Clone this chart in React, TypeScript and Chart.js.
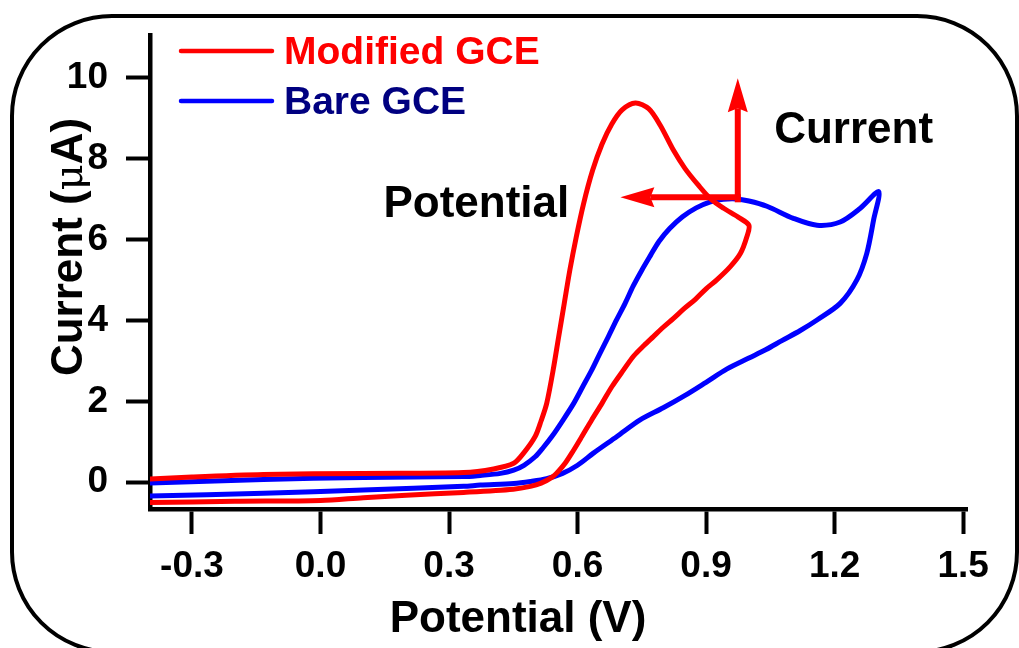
import React, { useEffect, useRef } from "react";
import { Chart, registerables } from "chart.js";

Chart.register(...registerables);

// ---- data (Potential in V, Current in µA) ----
const seriesNames = ["Modified GCE", "Bare GCE"];

const modifiedV = [
  -0.398, -0.3, -0.133, 0.1, 0.334, 0.404, 0.451, 0.474, 0.501, 0.515, 0.528, 0.543, 0.556, 0.569, 0.582,
  0.597, 0.614, 0.635, 0.657, 0.68, 0.704, 0.735, 0.766, 0.793, 0.824, 0.851, 0.882, 0.91, 0.941, 0.975, 1.0,
  0.995, 0.98, 0.956, 0.925, 0.9, 0.875, 0.85, 0.824, 0.8, 0.777, 0.755, 0.731, 0.707, 0.68, 0.657, 0.633,
  0.61, 0.59, 0.571, 0.555, 0.54, 0.515, 0.49, 0.45, 0.334, 0.2, 0.1, 0.0, -0.2, -0.398,
];
const modifiedI = [
  0.08, 0.13, 0.19, 0.22, 0.24, 0.33, 0.47, 0.72, 1.13, 1.52, 1.95, 2.77, 3.6, 4.42, 5.24,
  6.06, 6.88, 7.7, 8.35, 8.85, 9.2, 9.37, 9.23, 8.82, 8.2, 7.75, 7.34, 7.01, 6.77, 6.55, 6.35,
  6.06, 5.65, 5.32, 5.0, 4.78, 4.52, 4.3, 4.05, 3.83, 3.6, 3.38, 3.12, 2.77, 2.36, 1.95, 1.54,
  1.13, 0.78, 0.47, 0.27, 0.12, -0.02, -0.1, -0.17, -0.25, -0.32, -0.38, -0.45, -0.47, -0.5,
];

const bareV = [
  -0.398, -0.133, 0.1, 0.334, 0.373, 0.42, 0.451, 0.475, 0.501, 0.52, 0.54, 0.565, 0.591, 0.612, 0.633,
  0.652, 0.672, 0.691, 0.711, 0.73, 0.75, 0.77, 0.79, 0.815, 0.845, 0.877, 0.91, 0.94, 0.97, 1.0, 1.042,
  1.104, 1.159, 1.213, 1.26, 1.303,
  1.291, 1.275, 1.252, 1.213, 1.159, 1.12, 1.077, 1.04, 1.0, 0.949, 0.9, 0.85, 0.8, 0.746, 0.692, 0.637,
  0.6, 0.565, 0.528, 0.49, 0.451, 0.373, 0.334, 0.1, -0.133, -0.398,
];
const bareI = [
  -0.02, 0.07, 0.12, 0.14, 0.17, 0.22, 0.3, 0.42, 0.63, 0.86, 1.13, 1.52, 1.95, 2.36, 2.77,
  3.18, 3.6, 4.01, 4.42, 4.85, 5.24, 5.6, 5.95, 6.27, 6.56, 6.78, 6.93, 6.99, 7.0, 6.95, 6.82,
  6.52, 6.35, 6.43, 6.77, 7.18,
  6.48, 5.65, 5.0, 4.42, 4.01, 3.75, 3.5, 3.28, 3.07, 2.8, 2.47, 2.14, 1.84, 1.54, 1.13, 0.72,
  0.42, 0.22, 0.09, 0.02, -0.03, -0.07, -0.1, -0.19, -0.27, -0.34,
];

const xTicks = [-0.3, 0.0, 0.3, 0.6, 0.9, 1.2, 1.5];
const yTicks = [0, 2, 4, 6, 8, 10];

// annotation arrows (data coordinates)
const arrowOrigin = [0.974, 7.04];
const currentArrowTip = [0.974, 9.98];
const potentialArrowTip = [0.7, 7.04];
const annotationTexts = ["Potential", "Current"];
const annotationAnchors = [
  [0.147, 6.55],
  [1.059, 8.38],
];

const FONT = '"Liberation Sans", Arial, Helvetica, sans-serif';
const RED = "#FF0000";
const BLUE = "#0000FF";
const NAVY = "#000080";

function toPoints(xs: number[], ys: number[]) {
  return xs.map((x, i) => ({ x, y: ys[i] }));
}

function arrow(ctx: CanvasRenderingContext2D, x0: number, y0: number, x1: number, y1: number) {
  const ang = Math.atan2(y1 - y0, x1 - x0);
  const headLen = 34;
  const headHalf = 10;
  const bx = x1 - headLen * Math.cos(ang);
  const by = y1 - headLen * Math.sin(ang);
  ctx.save();
  ctx.strokeStyle = RED;
  ctx.fillStyle = RED;
  ctx.lineWidth = 6;
  ctx.lineCap = "butt";
  ctx.beginPath();
  ctx.moveTo(x0, y0);
  ctx.lineTo(bx + 4 * Math.cos(ang), by + 4 * Math.sin(ang));
  ctx.stroke();
  ctx.beginPath();
  ctx.moveTo(x1, y1);
  ctx.lineTo(bx - headHalf * Math.sin(ang), by + headHalf * Math.cos(ang));
  ctx.lineTo(bx + 4 * Math.cos(ang), by + 4 * Math.sin(ang));
  ctx.lineTo(bx + headHalf * Math.sin(ang), by - headHalf * Math.cos(ang));
  ctx.closePath();
  ctx.fill();
  ctx.restore();
}

const decorPlugin = {
  id: "decor",
  beforeDraw(chart: any) {
    const ctx: CanvasRenderingContext2D = chart.ctx;
    ctx.save();
    ctx.fillStyle = "#FFFFFF";
    ctx.fillRect(0, 0, chart.width, chart.height);
    // rounded frame
    const l = 12, t = 16, r = 1017, b = 652, rad = 100;
    ctx.strokeStyle = "#000";
    ctx.lineWidth = 4;
    ctx.beginPath();
    ctx.moveTo(l + rad, t);
    ctx.lineTo(r - rad, t);
    ctx.arcTo(r, t, r, t + rad, rad);
    ctx.lineTo(r, b - rad);
    ctx.arcTo(r, b, r - rad, b, rad);
    ctx.lineTo(l + rad, b);
    ctx.arcTo(l, b, l, b - rad, rad);
    ctx.lineTo(l, t + rad);
    ctx.arcTo(l, t, l + rad, t, rad);
    ctx.closePath();
    ctx.stroke();
    ctx.restore();
  },
  afterDraw(chart: any) {
    const ctx: CanvasRenderingContext2D = chart.ctx;
    const xs = chart.scales.x;
    const ys = chart.scales.y;
    const ca = chart.chartArea;
    ctx.save();

    // legend
    const legendColors = [RED, BLUE];
    const legendTextColors = [RED, NAVY];
    seriesNames.forEach((name, i) => {
      const y = 51 + i * 50;
      ctx.strokeStyle = legendColors[i];
      ctx.lineWidth = 4.5;
      ctx.lineCap = "round";
      ctx.beginPath();
      ctx.moveTo(ca.left + 31, y);
      ctx.lineTo(ca.left + 122, y);
      ctx.stroke();
      ctx.fillStyle = legendTextColors[i];
      ctx.font = `bold 39px ${FONT}`;
      ctx.textAlign = "left";
      ctx.textBaseline = "middle";
      ctx.fillText(name, ca.left + 134, y + 2);
    });

    // arrows
    const ox = xs.getPixelForValue(arrowOrigin[0]);
    const oy = ys.getPixelForValue(arrowOrigin[1]);
    arrow(ctx, ox, oy + 5, xs.getPixelForValue(currentArrowTip[0]), ys.getPixelForValue(currentArrowTip[1]));
    arrow(ctx, ox + 3, oy, xs.getPixelForValue(potentialArrowTip[0]), ys.getPixelForValue(potentialArrowTip[1]));

    // annotation texts
    ctx.fillStyle = "#000";
    ctx.font = `bold 44px ${FONT}`;
    ctx.textAlign = "left";
    ctx.textBaseline = "alphabetic";
    annotationTexts.forEach((txt, i) => {
      ctx.fillText(txt, xs.getPixelForValue(annotationAnchors[i][0]), ys.getPixelForValue(annotationAnchors[i][1]));
    });

    // x-axis title
    ctx.font = `bold 44px ${FONT}`;
    ctx.textAlign = "center";
    ctx.fillText("Potential (V)", 518, 632);

    // y-axis title (rotated, µ in a lighter face)
    ctx.translate(82, 247);
    ctx.rotate(-Math.PI / 2);
    const parts = [
      { t: "Current (", f: `bold 44px ${FONT}` },
      { t: "\u03BC", f: `40px "DejaVu Serif", serif` },
      { t: "A)", f: `bold 44px ${FONT}` },
    ];
    let total = 0;
    const widths = parts.map((p) => {
      ctx.font = p.f;
      const w = ctx.measureText(p.t).width;
      total += w;
      return w;
    });
    let cx = -total / 2;
    ctx.textAlign = "left";
    parts.forEach((p, i) => {
      ctx.font = p.f;
      ctx.fillText(p.t, cx, 0);
      cx += widths[i];
    });
    ctx.restore();
  },
};

export default function App() {
  const canvasRef = useRef<HTMLCanvasElement | null>(null);

  useEffect(() => {
    document.body.style.margin = "0";
    const canvas = canvasRef.current;
    if (!canvas) return;
    const chart = new Chart(canvas, {
      type: "scatter",
      data: {
        datasets: [
          {
            label: seriesNames[0],
            data: toPoints(modifiedV, modifiedI),
            showLine: true,
            borderColor: RED,
            backgroundColor: RED,
            borderWidth: 5,
            pointRadius: 0,
            tension: 0.3,
            borderCapStyle: "round",
            borderJoinStyle: "round",
          },
          {
            label: seriesNames[1],
            data: toPoints(bareV, bareI),
            showLine: true,
            borderColor: BLUE,
            backgroundColor: BLUE,
            borderWidth: 5,
            pointRadius: 0,
            tension: 0.3,
            borderCapStyle: "round",
            borderJoinStyle: "round",
          },
        ],
      },
      options: {
        responsive: false,
        animation: false,
        layout: { padding: { left: 0, top: 35, right: 51.6, bottom: 0 } },
        plugins: {
          legend: { display: false },
          tooltip: { enabled: false },
          title: { display: false },
        },
        scales: {
          x: {
            type: "linear",
            min: -0.398,
            max: 1.51,
            afterFit: (s: any) => {
              s.height = 139;
              s.paddingLeft = 0;
              s.paddingRight = 0;
            },
            afterBuildTicks: (s: any) => {
              s.ticks = xTicks.map((v) => ({ value: v }));
            },
            border: { display: true, color: "#000", width: 4.5 },
            grid: {
              display: true,
              drawOnChartArea: false,
              drawTicks: true,
              tickLength: 25,
              tickWidth: 4,
              tickColor: "#000",
              color: "#000",
            },
            ticks: {
              color: "#000",
              padding: 11,
              maxRotation: 0,
              autoSkip: false,
              font: { family: FONT, size: 37, weight: "bold" },
              callback: (v: any) => Number(v).toFixed(1),
            },
            title: { display: false },
          },
          y: {
            type: "linear",
            min: -0.66,
            max: 11.05,
            afterFit: (s: any) => {
              s.width = 150;
              s.paddingTop = 0;
              s.paddingBottom = 0;
            },
            afterBuildTicks: (s: any) => {
              s.ticks = yTicks.map((v) => ({ value: v }));
            },
            border: { display: true, color: "#000", width: 4.5 },
            grid: {
              display: true,
              drawOnChartArea: false,
              drawTicks: true,
              tickLength: 24,
              tickWidth: 4,
              tickColor: "#000",
              color: "#000",
            },
            ticks: {
              color: "#000",
              padding: 18,
              autoSkip: false,
              font: { family: FONT, size: 37, weight: "bold" },
              callback: (v: any) => String(Math.round(Number(v))),
            },
            title: { display: false },
          },
        },
      },
      plugins: [decorPlugin],
    });
    return () => chart.destroy();
  }, []);

  return (
    <div style={{ width: 1019, height: 648 }}>
      <canvas ref={canvasRef} width={1019} height={648} style={{ display: "block" }} />
    </div>
  );
}
